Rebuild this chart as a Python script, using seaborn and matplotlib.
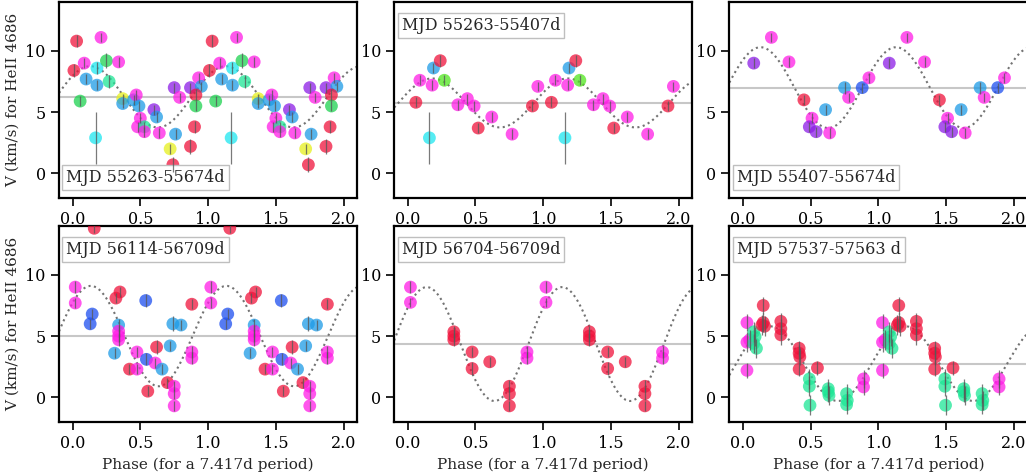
import numpy as np
import pandas as pd
import matplotlib
matplotlib.use("Agg")
import matplotlib.pyplot as plt
import seaborn as sns

# ---- colours for the observing runs ----
run_colors = {
    'red': '#f0143c', 'magenta': '#ff1ee6', 'sky': '#1e9be6', 'blue': '#1e4ff0',
    'cyan': '#1ee6f0', 'green': '#1ed250', 'teal': '#1ee696', 'lime': '#50e61e',
    'yellow': '#e6f01e', 'purple': '#8c1ee6',
}

# ---- panel 1: MJD 55263-55674d ----
p1_phase = [0.01, 0.03, 0.086, 0.10, 0.056, 0.18, 0.18, 0.21, 0.25, 0.17, 0.27, 0.34,
            0.37, 0.37, 0.45, 0.47, 0.49, 0.50, 0.48, 0.53, 0.53, 0.60, 0.62, 0.64,
            0.72, 0.74, 0.76, 0.75, 0.79, 0.87, 0.87, 0.90, 0.93, 0.95, 0.91, 0.91]
p1_vel = [8.4, 10.8, 9.0, 7.7, 5.9, 7.2, 8.6, 11.1, 9.2, 2.9, 7.5, 9.1,
          6.1, 5.7, 6.0, 6.4, 5.5, 4.5, 3.8, 3.8, 3.4, 5.2, 4.6, 3.3,
          2.0, 0.7, 3.2, 7.0, 6.2, 7.0, 2.2, 3.8, 7.8, 7.1, 6.4, 5.5]
p1_err = [0.5, 0.5, 0.4, 0.4, 0.4, 0.4, 0.5, 0.4, 0.6, 2.1, 0.5, 0.4,
          0.4, 0.4, 0.4, 0.4, 0.4, 0.4, 0.4, 0.4, 0.4, 0.4, 0.4, 0.4,
          0.4, 0.6, 0.4, 0.4, 0.4, 0.4, 0.6, 0.5, 0.4, 0.4, 0.5, 0.4]
p1_run = ['red', 'red', 'magenta', 'sky', 'green', 'sky', 'cyan', 'magenta', 'green', 'cyan', 'teal', 'magenta',
          'yellow', 'sky', 'sky', 'magenta', 'sky', 'magenta', 'magenta', 'teal', 'magenta', 'purple', 'sky', 'magenta',
          'yellow', 'red', 'sky', 'purple', 'magenta', 'purple', 'red', 'red', 'magenta', 'sky', 'red', 'green']

# ---- panel 2: MJD 55263-55407d ----
p2_phase = [0.06, 0.09, 0.16, 0.19, 0.18, 0.24, 0.27, 0.37, 0.44, 0.49, 0.52, 0.62, 0.77, 0.92, 0.96]
p2_vel = [5.8, 7.6, 2.9, 8.6, 7.2, 9.2, 7.6, 5.6, 6.1, 5.5, 3.7, 4.6, 3.2, 5.5, 7.1]
p2_err = [0.4, 0.4, 2.1, 0.4, 0.4, 0.5, 0.4, 0.4, 0.4, 0.4, 0.4, 0.4, 0.4, 0.4, 0.4]
p2_run = ['red', 'magenta', 'cyan', 'sky', 'magenta', 'red', 'lime', 'magenta', 'magenta', 'magenta',
          'red', 'magenta', 'magenta', 'red', 'magenta']

# ---- panel 3: MJD 55407-55674d ----
p3_phase = [0.08, 0.21, 0.34, 0.45, 0.51, 0.49, 0.54, 0.61, 0.64, 0.75, 0.78, 0.88, 0.93]
p3_vel = [9.0, 11.1, 9.1, 6.0, 4.5, 3.8, 3.4, 5.2, 3.3, 7.0, 6.2, 7.0, 7.8]
p3_err = [0.4, 0.4, 0.4, 0.4, 0.4, 0.4, 0.4, 0.4, 0.4, 0.5, 0.4, 0.4, 0.4]
p3_run = ['purple', 'magenta', 'magenta', 'red', 'magenta', 'purple', 'purple', 'sky', 'magenta',
          'sky', 'magenta', 'blue', 'magenta']

# ---- panel 4: MJD 56114-56709d ----
p4_phase = [0.16, 0.02, 0.02, 0.145, 0.13, 0.32, 0.35, 0.34, 0.34, 0.34, 0.34, 0.31,
            0.42, 0.475, 0.475, 0.54, 0.545, 0.555, 0.61, 0.62, 0.66, 0.70, 0.72, 0.74,
            0.80, 0.75, 0.75, 0.75, 0.88, 0.88, 0.88]
p4_vel = [13.8, 9.0, 7.7, 6.8, 6.0, 8.1, 8.6, 5.9, 5.4, 5.0, 4.7, 3.6,
          2.3, 3.7, 2.3, 7.9, 3.1, 0.5, 2.8, 4.1, 2.3, 1.2, 4.2, 6.0,
          5.9, 0.9, 0.3, -0.7, 7.6, 3.7, 3.2]
p4_err = [0.4, 0.5, 0.4, 0.4, 0.4, 0.4, 0.4, 0.5, 0.5, 0.5, 0.5, 0.4,
          0.4, 0.4, 0.4, 0.5, 0.5, 0.4, 0.4, 0.6, 0.4, 0.4, 0.4, 0.6,
          0.4, 0.4, 0.4, 0.4, 0.4, 0.5, 0.5]
p4_run = ['red', 'magenta', 'magenta', 'blue', 'blue', 'red', 'red', 'sky', 'magenta', 'magenta', 'magenta', 'sky',
          'red', 'magenta', 'magenta', 'blue', 'blue', 'red', 'magenta', 'red', 'sky', 'red', 'sky', 'sky',
          'sky', 'magenta', 'magenta', 'magenta', 'red', 'magenta', 'magenta']

# ---- panel 5: MJD 56704-56709d ----
p5_phase = [0.02, 0.02, 0.34, 0.34, 0.34, 0.475, 0.475, 0.605, 0.75, 0.75, 0.75, 0.88, 0.88]
p5_vel = [9.0, 7.75, 5.35, 5.0, 4.7, 3.7, 2.35, 2.9, 0.9, 0.3, -0.7, 3.7, 3.2]
p5_err = [0.5, 0.4, 0.5, 0.5, 0.5, 0.4, 0.5, 0.4, 0.5, 0.5, 0.4, 0.5, 0.5]
p5_run = ['magenta', 'magenta', 'red', 'red', 'red', 'red', 'red', 'red', 'red', 'red', 'red', 'magenta', 'magenta']

# ---- panel 6: MJD 57537-57563 d ----
p6_phase = [0.03, 0.03, 0.05, 0.03, 0.08, 0.09, 0.08, 0.10, 0.15, 0.15, 0.16, 0.14,
            0.28, 0.28, 0.28, 0.415, 0.415, 0.42, 0.415, 0.55, 0.49, 0.49, 0.495,
            0.63, 0.635, 0.63, 0.765, 0.77, 0.765, 0.89, 0.89]
p6_vel = [6.1, 4.5, 4.7, 2.2, 5.35, 4.95, 4.4, 4.0, 7.5, 6.1, 5.8, 5.9,
          6.2, 5.6, 5.1, 4.0, 3.6, 3.3, 2.3, 2.4, 1.5, 0.9, -0.65,
          0.7, 0.15, 0.45, 0.3, -0.25, -0.6, 1.5, 0.85]
p6_err = [0.7, 0.8, 0.8, 0.6, 0.8, 0.8, 0.8, 0.8, 0.7, 0.8, 0.8, 0.8,
          0.7, 0.8, 0.8, 0.6, 0.7, 0.7, 0.6, 0.6, 0.8, 0.8, 0.8,
          0.8, 0.8, 0.8, 0.8, 0.8, 0.8, 0.7, 0.7]
p6_run = ['magenta', 'magenta', 'magenta', 'magenta', 'teal', 'teal', 'teal', 'teal', 'red', 'red', 'red', 'red',
          'red', 'red', 'red', 'red', 'red', 'red', 'red', 'red', 'teal', 'teal', 'teal',
          'teal', 'teal', 'teal', 'teal', 'teal', 'teal', 'magenta', 'magenta']

# ---- labels, mean velocity and sine fit (mean, amplitude, phase of max) ----
labels = ['MJD 55263-55674d', 'MJD 55263-55407d', 'MJD 55407-55674d',
          'MJD 56114-56709d', 'MJD 56704-56709d', 'MJD 57537-57563 d']
label_pos = ['lower', 'upper', 'lower', 'upper', 'upper', 'upper']
fit_mean = [6.25, 5.75, 7.0, 5.0, 4.35, 2.75]
fit_amp = [2.5, 2.0, 3.3, 4.1, 4.65, 3.05]
fit_peak = [0.13, 0.18, 0.13, 0.135, 0.14, 0.20]

panels = [(p1_phase, p1_vel, p1_err, p1_run), (p2_phase, p2_vel, p2_err, p2_run),
          (p3_phase, p3_vel, p3_err, p3_run), (p4_phase, p4_vel, p4_err, p4_run),
          (p5_phase, p5_vel, p5_err, p5_run), (p6_phase, p6_vel, p6_err, p6_run)]

sns.set_style("ticks")
plt.rcParams['font.family'] = ['DejaVu Serif']
plt.rcParams['font.size'] = 11

fig, axes = plt.subplots(2, 3, figsize=(10.26, 4.75), dpi=100)
fig.subplots_adjust(left=0.0575, right=1.0015, bottom=0.112, top=0.996, wspace=0.124, hspace=0.143)

for i, ax in enumerate(axes.flat):
    ph, v, e, run = panels[i]
    df = pd.DataFrame({'phase': ph, 'vel': v, 'err': e, 'run': run})
    # phase-folded data shown over two cycles
    df2 = pd.concat([df, df.assign(phase=df['phase'] + 1)], ignore_index=True)

    xx = np.linspace(-0.1, 2.1, 300)
    ax.axhline(fit_mean[i], color='0.78', lw=1.5, zorder=1)
    ax.plot(xx, fit_mean[i] + fit_amp[i] * np.cos(2 * np.pi * (xx - fit_peak[i])),
            ls=':', color='0.45', lw=1.5, zorder=2)

    sns.scatterplot(data=df2, x='phase', y='vel', hue='run', palette=run_colors,
                    s=85, alpha=0.75, edgecolor='none', legend=False, ax=ax, zorder=3)
    ax.errorbar(df2['phase'], df2['vel'], yerr=df2['err'], fmt='none',
                ecolor='0.35', elinewidth=0.9, zorder=4, alpha=0.8)

    ax.set_xlim(-0.1, 2.1)
    ax.set_ylim(-2, 14)
    ax.set_xticks([0, 0.5, 1.0, 1.5, 2.0])
    ax.set_yticks([0, 5, 10])
    ax.tick_params(direction='out', length=6, width=1.2, labelsize=11.5, colors='black')
    for sp in ax.spines.values():
        sp.set_color('black')
        sp.set_linewidth(1.6)

    ax.set_xlabel('Phase (for a 7.417d period)' if i >= 3 else '', fontsize=11)
    ax.set_ylabel('V (km/s) for HeII 4686' if i % 3 == 0 else '', fontsize=11)

    box = dict(boxstyle='square,pad=0.25', fc='white', ec='0.75', lw=1)
    if label_pos[i] == 'upper':
        ax.text(0.025, 0.925, labels[i], transform=ax.transAxes, va='top', ha='left',
                fontsize=11.5, bbox=box)
    else:
        ax.text(0.025, 0.06, labels[i], transform=ax.transAxes, va='bottom', ha='left',
                fontsize=11.5, bbox=box)

fig.savefig('out.png', dpi=100)
